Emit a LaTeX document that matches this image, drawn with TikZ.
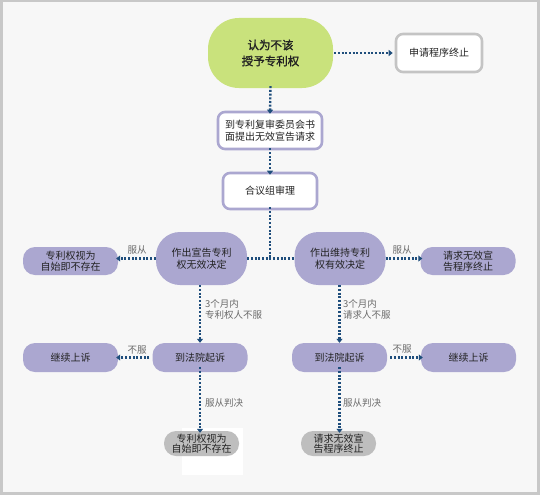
\documentclass[tikz,border=0pt]{standalone}
\usepackage{fontspec}
\setmainfont{Noto Sans CJK SC}
\newfontfamily\cjkbold[FakeBold=1.6]{Noto Sans CJK SC}
\usetikzlibrary{arrows.meta}
\definecolor{bgc}{HTML}{F7F7F7}
\definecolor{framec}{HTML}{C8C8C8}
\definecolor{greenc}{HTML}{C9E27C}
\definecolor{purplec}{HTML}{ABA7D0}
\definecolor{grayc}{HTML}{BEBEBE}
\definecolor{graybd}{HTML}{C4C4C4}
\definecolor{linec}{HTML}{1F4E7C}
\definecolor{txtc}{HTML}{222222}
\definecolor{lblc}{HTML}{6A6A6A}
\tikzset{
  base/.style={inner sep=0pt, align=center, text=txtc, font=\fontsize{10}{11.5}\selectfont},
  startnode/.style={base, fill=greenc, rounded corners=31pt, minimum width=125pt, minimum height=70pt, font=\cjkbold\fontsize{11.5}{16}\selectfont},
  whitebox/.style={base, fill=white, draw=purplec, line width=2.6pt, rounded corners=7pt},
  graybox/.style={base, fill=white, draw=graybd, line width=2.6pt, rounded corners=7pt},
  decision/.style={base, fill=purplec, rounded corners=24pt, minimum width=91pt, minimum height=53pt},
  result/.style={base, fill=purplec, rounded corners=12pt, minimum width=95pt, minimum height=28pt},
  endbox/.style={base, fill=grayc, rounded corners=12pt, minimum width=75pt, minimum height=25pt, font=\fontsize{10}{10.5}\selectfont},
  dotline/.style={draw=linec, line width=2.4pt, dash pattern=on 2pt off 1.7pt},
  arr/.style={dotline, -{Triangle[length=4pt,width=6pt]}},
  lbl/.style={inner sep=0pt, text=lblc, font=\fontsize{9.5}{11.5}\selectfont, align=left},
}
\begin{document}
\begin{tikzpicture}[x=1pt,y=-1pt]
\useasboundingbox (0,0) rectangle (540,495);
\fill[framec] (0,0) rectangle (540,495);
\fill[bgc] (2.5,2.5) rectangle (537,491.5);
% white patch behind bottom left node
\fill[white] (182,428) rectangle (243,475);

\node[startnode] (start) at (270.5,53) {认为不该\\授予专利权};
\node[graybox, minimum width=86pt, minimum height=38pt] (stop1) at (439,53) {申请程序终止};
\node[whitebox, minimum width=104pt, minimum height=37pt] (req) at (270,130.5) {到专利复审委员会书\\面提出无效宣告请求};
\node[whitebox, minimum width=94pt, minimum height=36pt] (panel) at (270,191) {合议组审理};

\node[decision] (ldec) at (201.5,258.5) {作出宣告专利\\权无效决定};
\node[decision] (rdec) at (340,258.5) {作出维持专利\\权有效决定};
\node[result] (lres) at (70.5,261) {专利权视为\\自始即不存在};
\node[result] (rres) at (468,261) {请求无效宣\\告程序终止};

\node[result, minimum height=29pt] (lcourt) at (200,357.5) {到法院起诉};
\node[result, minimum height=29pt] (lapp) at (70.5,357.5) {继续上诉};
\node[result, minimum height=29pt] (rcourt) at (339.5,357.5) {到法院起诉};
\node[result, minimum height=29pt] (rapp) at (468.5,357.5) {继续上诉};

\node[endbox] (lend) at (201.5,443.5) {专利权视为\\自始即不存在};
\node[endbox] (rend) at (338.5,443.5) {请求无效宣\\告程序终止};

% connectors
\draw[arr] (start.east |- 0,53) ++(1,0) -- ([xshift=-2pt]stop1.west);
\draw[arr] ([yshift=2pt]start.south) -- ([yshift=-3pt]req.north);
\draw[arr] ([yshift=2pt]req.south) -- ([yshift=-3pt]panel.north);
\coordinate (tj) at (270,258.5);
\draw[dotline] ([yshift=3pt]panel.south) -- (tj);
\draw[dotline] (ldec.east) -- (rdec.west);

\draw[arr] (ldec.west) -- ([xshift=-2pt]lres.east |- ldec.west);
\draw[arr] (rdec.east) -- ([xshift=2pt]rres.west |- rdec.east);
\node[lbl] at (137,250) {服从};
\node[lbl] at (402,250) {服从};

\draw[arr] (ldec.south -| lcourt.north) -- (lcourt.north);
\draw[arr] (rdec.south -| rcourt.north) -- (rcourt.north);
\node[lbl, anchor=north west] at (205,299) {3个月内\\专利权人不服};
\node[lbl, anchor=north west] at (343,299) {3个月内\\请求人不服};

\draw[arr] ([xshift=-3pt]lcourt.west) -- ([xshift=-2pt]lapp.east);
\draw[arr] ([xshift=3pt]rcourt.east) -- ([xshift=2pt]rapp.west);
\node[lbl] at (137,350) {不服};
\node[lbl] at (402,349) {不服};

\draw[arr] ([yshift=5pt]lcourt.south) -- ([yshift=-2pt]lcourt.south |- lend.north);
\draw[arr] ([yshift=5pt]rcourt.south) -- ([yshift=-2pt]rcourt.south |- rend.north);
\node[lbl, anchor=west] at (205,403) {服从判决};
\node[lbl, anchor=west] at (343,403) {服从判决};
\end{tikzpicture}
\end{document}
